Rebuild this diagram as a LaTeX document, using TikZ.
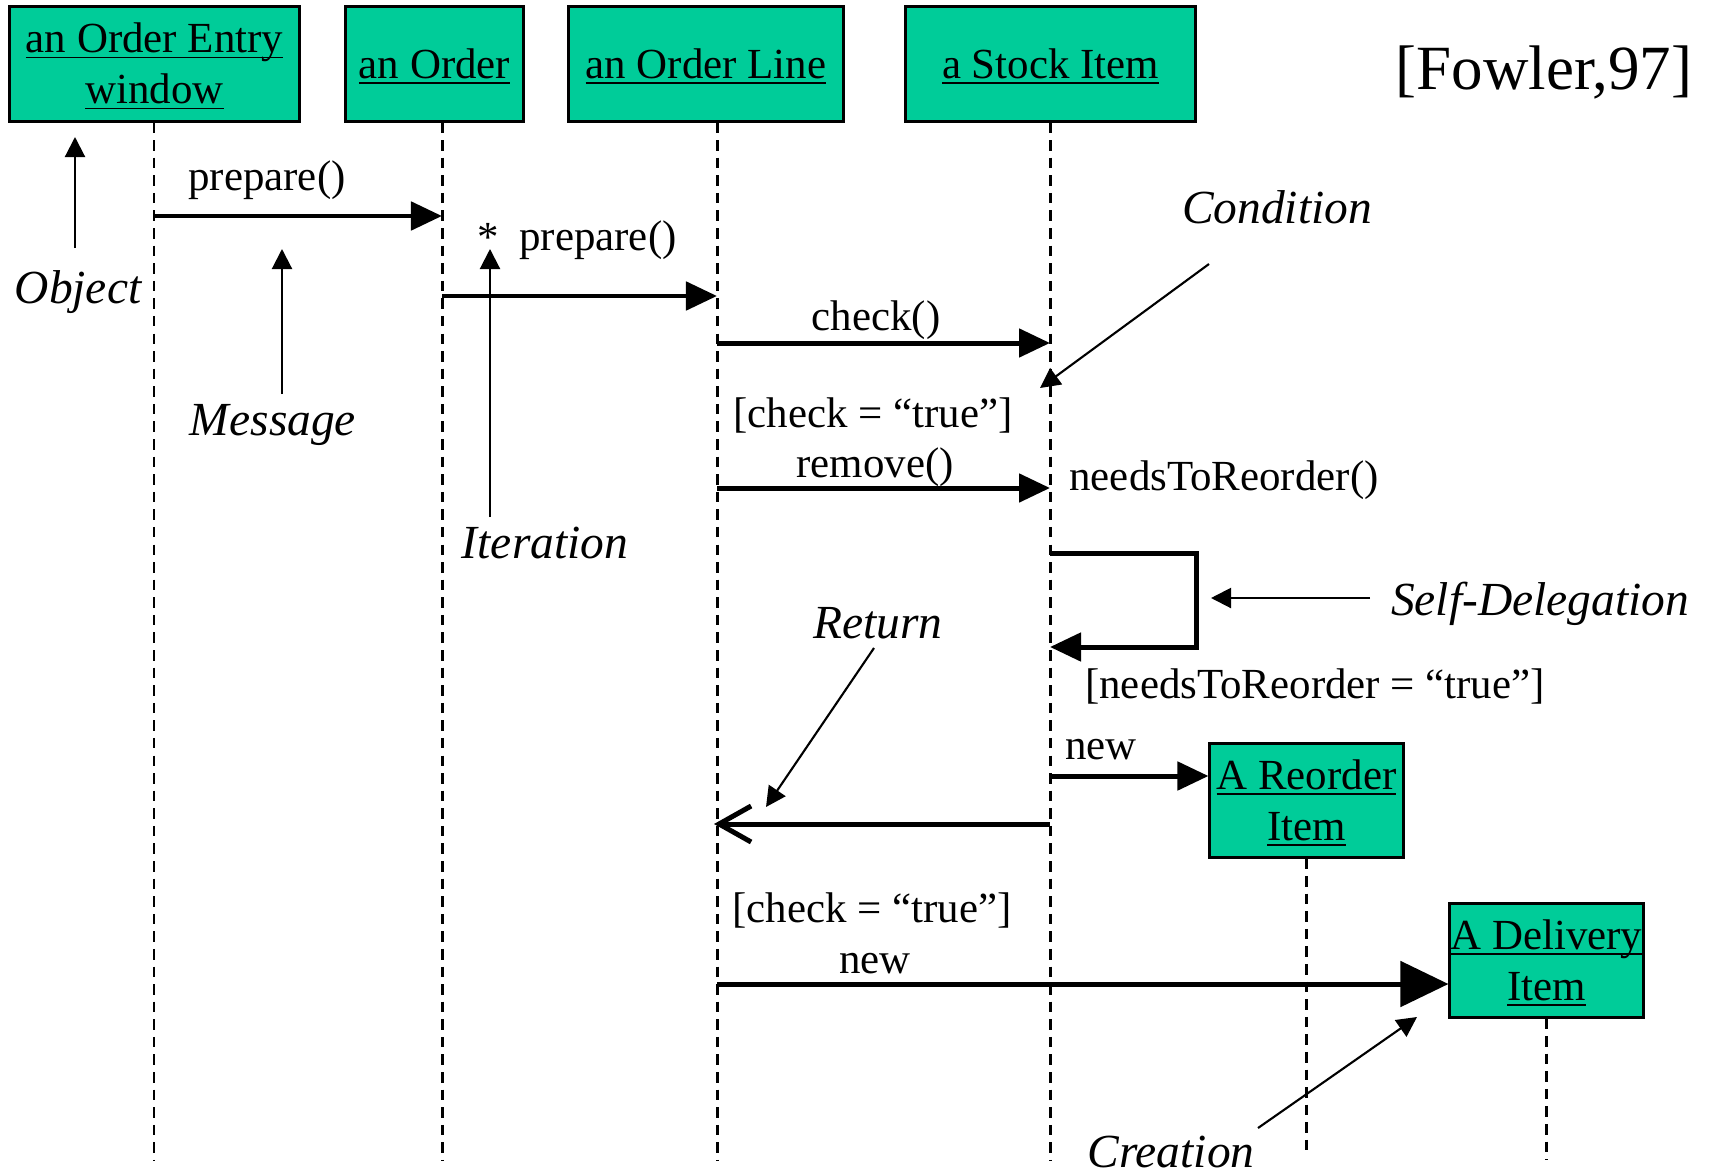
\documentclass[tikz,border=0pt]{standalone}
\usepackage{fontspec}
\setmainfont{Liberation Serif}
\usetikzlibrary{arrows.meta}
\definecolor{objgreen}{RGB}{0,204,153}
\newcommand{\objname}[1]{\underline{\smash{#1}}\vphantom{Ay}}
\tikzset{objbox/.style = {draw, line width = 0.85pt, fill = objgreen, inner sep = 0pt, align = center, text depth = -0.04cm, font = \fontsize{12.2}{14.5}\selectfont}}
\tikzset{lifeline/.style = {line width = 0.85pt, dash pattern = on 3pt off 2pt}}
\tikzset{msg/.style = {line width = 1.42pt, -{Triangle[length = 0.31cm, width = 0.28cm]}}}
\tikzset{note/.style = {line width = 0.6pt, -{Triangle[length = 0.2cm, width = 0.2cm]}}}
\tikzset{msglabel/.style = {anchor = base, inner sep = 0pt, font = \fontsize{12.2}{14.5}\selectfont}}
\tikzset{notelabel/.style = {anchor = base, inner sep = 0pt, font = \fontsize{13.5}{16}\selectfont\itshape}}

\begin{document}
\begin{tikzpicture}[x = 0.01cm, y = -0.01cm]
	\useasboundingbox (0, 0) rectangle (1716, 1173);

	% objects
	\node[objbox, minimum width = 2.89cm, minimum height = 1.14cm] (oew) at (154.5, 64) {\objname{an Order Entry}\\\objname{window}};
	\node[objbox, minimum width = 1.77cm, minimum height = 1.14cm] (ord) at (434.5, 64) {\objname{an Order}};
	\node[objbox, minimum width = 2.74cm, minimum height = 1.14cm] (oline) at (706, 64) {\objname{an Order Line}};
	\node[objbox, minimum width = 2.89cm, minimum height = 1.14cm] (stock) at (1050.5, 64) {\objname{a Stock Item}};
	\node[objbox, minimum width = 1.93cm, minimum height = 1.13cm] (reorder) at (1306.5, 800.5) {\objname{A Reorder}\\\objname{Item}};
	\node[objbox, minimum width = 1.93cm, minimum height = 1.13cm] (delivery) at (1546.5, 960.5) {\objname{A Delivery}\\\objname{Item}};

	\node[msglabel, font = \fontsize{17.9}{20}\selectfont] (fowler) at (1544, 90) {[Fowler,97]};

	% lifelines
	\coordinate (oewend) at (154, 1160);
	\coordinate (ordend) at (442, 1160);
	\coordinate (olineend) at (717, 1160);
	\coordinate (stockend) at (1050, 1160);
	\coordinate (reorderend) at (1306, 1155);
	\coordinate (deliveryend) at (1546, 1160);

	\draw[lifeline] (oew.south -| oewend) -- (oewend);
	\draw[lifeline] (ord.south -| ordend) -- (ordend);
	\draw[lifeline] (oline.south -| olineend) -- (olineend);
	\draw[lifeline] (stock.south -| stockend) -- (stockend);
	\draw[lifeline] (reorder.south -| reorderend) -- (reorderend);
	\draw[lifeline] (delivery.south -| deliveryend) -- (deliveryend);

	% messages
	\draw[msg] (oewend |- 0, 216) -- (ordend |- 0, 216);
	\draw[msg] (ordend |- 0, 296) -- (olineend |- 0, 296);
	\draw[msg] (olineend |- 0, 343) -- (stockend |- 0, 343);
	\draw[msg] (olineend |- 0, 488) -- (stockend |- 0, 488);
	\draw[msg] (stockend |- 0, 553) -- (1196, 553) -- (1196, 647) -- (stockend |- 0, 647);
	\draw[msg] (stockend |- 0, 776) -- (reorder.west |- 0, 776);
	\draw[line width = 1.42pt, -{Straight Barb[length = 0.32cm, width = 0.36cm]}] (stockend |- 0, 824) -- ([xshift = -0.03cm] olineend |- 0, 824);
	\draw[line width = 1.42pt, -{Triangle[length = 0.48cm, width = 0.45cm]}] (olineend |- 0, 984) -- (delivery.west |- 0, 984);

	\node[msglabel] (prep1) at (267, 190) {prepare()};
	\node[msglabel] (star) at (488, 251) {*};
	\node[msglabel] (prep2) at (598, 250) {prepare()};
	\node[msglabel] (chk) at (876, 330) {check()};
	\node[msglabel] (guard1) at (873, 427) {[check = “true”]};
	\node[msglabel] (rem) at (875, 477) {remove()};
	\node[msglabel] (needs) at (1224, 490) {needsToReorder()};
	\node[msglabel] (guard2) at (1315, 698) {[needsToReorder = “true”]};
	\node[msglabel] (new1) at (1101, 759) {new};
	\node[msglabel] (guard3) at (872, 922) {[check = “true”]};
	\node[msglabel] (new2) at (875, 973) {new};

	% notes
	\node[notelabel] (lobject) at (78, 303) {Object};
	\node[notelabel] (lmessage) at (273, 435) {Message};
	\node[notelabel] (literation) at (545, 558) {Iteration};
	\node[notelabel] (lcondition) at (1277, 223) {Condition};
	\node[notelabel] (lselfdel) at (1540, 615) {Self-Delegation};
	\node[notelabel] (lreturn) at (878, 638) {Return};
	\node[notelabel] (lcreation) at (1171, 1167) {Creation};

	\coordinate (objtail) at (75, 248);
	\coordinate (objtip) at (75, 137);
	\coordinate (msgtail) at (282, 394);
	\coordinate (msgtip) at (282, 249);
	\coordinate (itertail) at (490, 517);
	\coordinate (itertip) at (490, 249);
	\coordinate (condtail) at (1209, 264);
	\coordinate (condtip) at (1040, 388);
	\coordinate (selftail) at (1370, 598);
	\coordinate (selftip) at (1211, 598);
	\coordinate (rettail) at (874, 648);
	\coordinate (rettip) at (766, 807);
	\coordinate (creattail) at (1258, 1128);
	\coordinate (creattip) at (1417, 1017);

	\draw[note] (objtail) -- (objtip);
	\draw[note] (msgtail) -- (msgtip);
	\draw[note] (itertail) -- (itertip);
	\draw[note] (condtail) -- (condtip);
	\draw[note] (selftail) -- (selftip);
	\draw[note] (rettail) -- (rettip);
	\draw[note] (creattail) -- (creattip);
\end{tikzpicture}
\end{document}
